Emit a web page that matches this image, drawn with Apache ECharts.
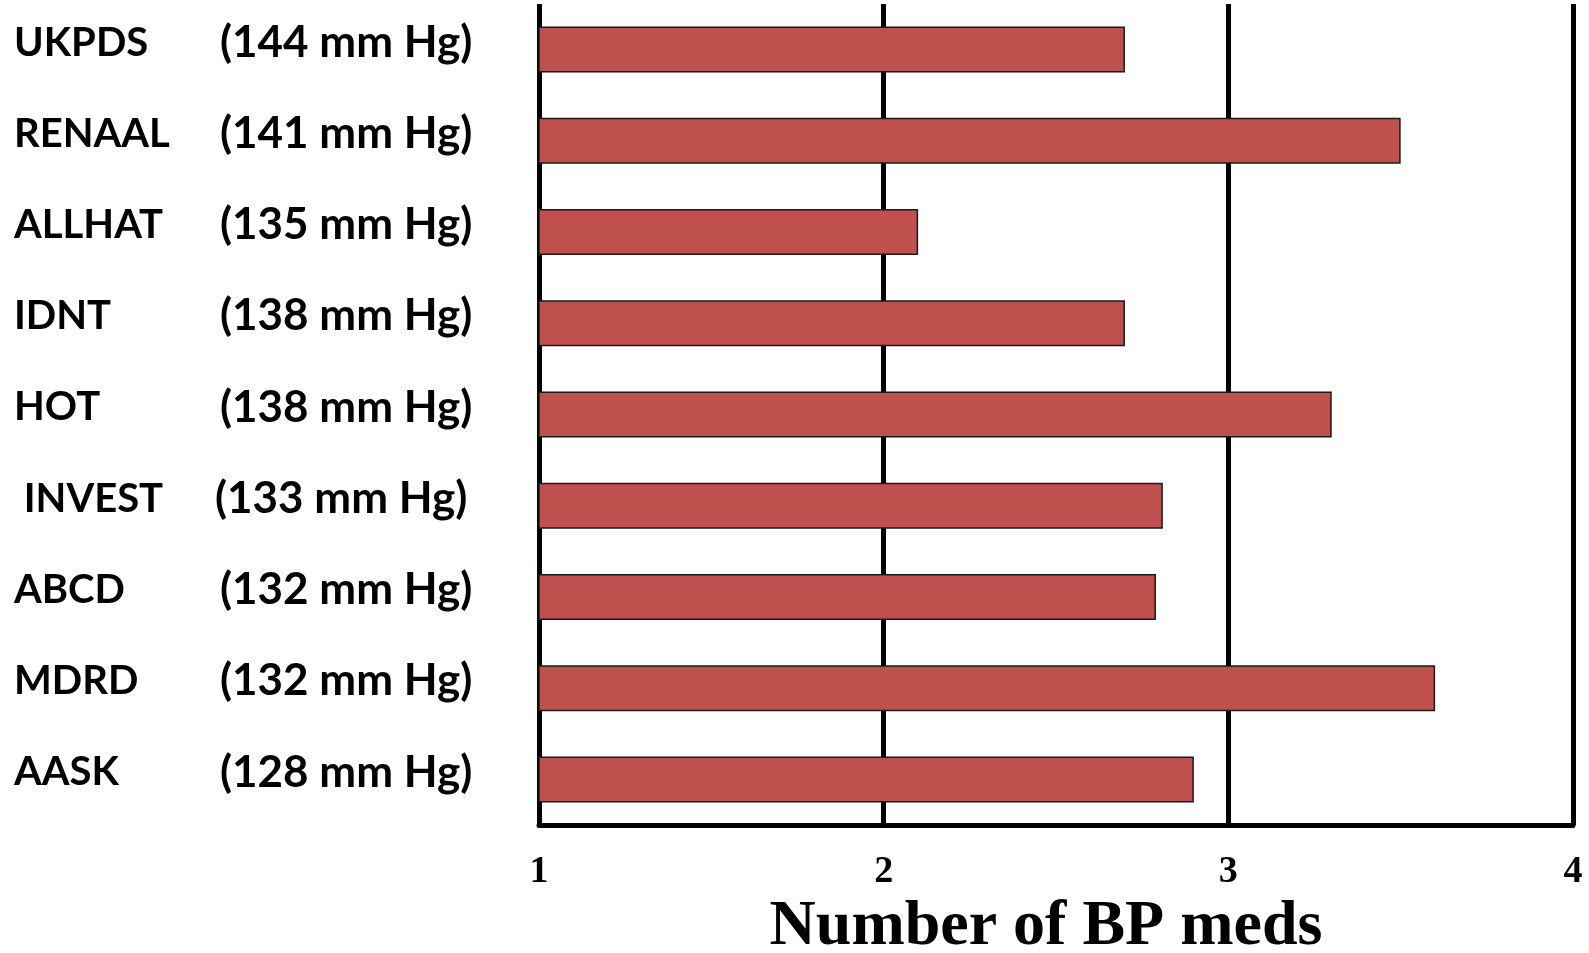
<!DOCTYPE html>
<html>
<head>
<meta charset="utf-8">
<script src="https://cdn.jsdelivr.net/npm/echarts@6/dist/echarts.min.js"></script>
<style>
  html, body { margin: 0; padding: 0; background: #fff; }
  #chart { width: 1589px; height: 953px; }
</style>
</head>
<body>
<div id="chart"></div>
<script>
// Trials, listed top to bottom
const trials = ['UKPDS', 'RENAAL', 'ALLHAT', 'IDNT', 'HOT', ' INVEST', 'ABCD', 'MDRD', 'AASK'];
// Achieved systolic BP for each trial
const achievedBP = ['(144 mm Hg)', '(141 mm Hg)', '(135 mm Hg)', '(138 mm Hg)', '(138 mm Hg)', '(133 mm Hg)', '(132 mm Hg)', '(132 mm Hg)', '(128 mm Hg)'];
// Average number of antihypertensive medications
const medCount = [2.7, 3.5, 2.1, 2.7, 3.3, 2.81, 2.79, 3.6, 2.9];
// Value axis ticks
const xTicks = [1, 2, 3, 4];

// category axis runs bottom-up, so reverse for top-down order
const catKeys = trials.map((t, i) => i).reverse();
const seriesData = catKeys.map(i => medCount[i]);

const chart = echarts.init(document.getElementById('chart'));
const labelFont = 'Lato, "Open Sans", sans-serif';
const serif = '"Liberation Serif", "Times New Roman", serif';

chart.setOption({
  animation: false,
  backgroundColor: '#ffffff',
  grid: { left: 539, right: 16, top: 4, bottom: 128, containLabel: false, outerBoundsMode: 'none' },
  xAxis: {
    type: 'value',
    min: xTicks[0],
    max: xTicks[xTicks.length - 1],
    interval: 1,
    axisLine: { show: true, lineStyle: { color: '#000', width: 5 } },
    axisTick: { show: false },
    splitLine: { show: true, lineStyle: { color: '#000', width: 5 } },
    axisLabel: {
      margin: 28,
      color: '#000',
      fontFamily: serif,
      fontWeight: 'bold',
      fontSize: 38
    },
    name: 'Number of BP meds',
    nameLocation: 'middle',
    nameGap: 62,
    nameTextStyle: {
      color: '#000',
      fontFamily: serif,
      fontWeight: 'bold',
      fontSize: 64,
      padding: [0, 20, 0, 0]
    }
  },
  yAxis: {
    type: 'category',
    data: catKeys.map(String),
    axisLine: { show: false },
    axisTick: { show: false },
    splitLine: { show: false },
    axisLabel: {
      align: 'left',
      margin: 525,
      formatter: function (v) {
        const i = Number(v);
        const style = i === 5 ? 'nameAlt' : 'name';
        return '{' + style + '|' + trials[i] + '}{bp|' + achievedBP[i] + '}';
      },
      rich: {
        name: { width: 206, fontFamily: labelFont, fontWeight: 'bold', fontSize: 40, color: '#000', padding: [0, 0, 14, 0] },
        nameAlt: { width: 201, fontFamily: labelFont, fontWeight: 'bold', fontSize: 40, color: '#000', padding: [0, 0, 14, 0] },
        bp: { fontFamily: labelFont, fontWeight: 'bold', fontSize: 44, color: '#000', padding: [0, 0, 14, 0] }
      }
    }
  },
  series: [{
    type: 'bar',
    data: seriesData,
    barWidth: 46,
    itemStyle: { color: '#C0504D', borderColor: '#1a1a1a', borderWidth: 1.5 },
    z: 3
  }]
});
</script>
</body>
</html>
